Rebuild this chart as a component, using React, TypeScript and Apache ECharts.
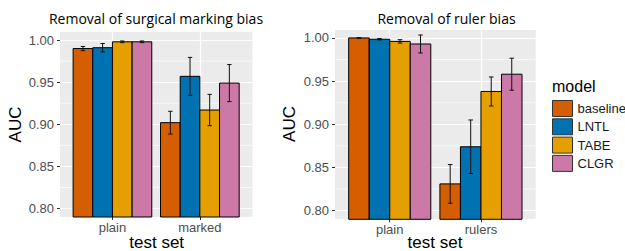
import React, { useEffect, useRef } from 'react';
import * as echarts from 'echarts';

const models = ['baseline', 'LNTL', 'TABE', 'CLGR'];
const modelColors = ['#D55E00', '#0072B2', '#E69F00', '#CC79A7'];

const surgicalCats = ['plain', 'marked'];
const surgicalMean = [
  [0.990, 0.902],
  [0.991, 0.957],
  [0.998, 0.917],
  [0.998, 0.949],
];
const surgicalErr = [
  [0.0025, 0.0135],
  [0.005, 0.0225],
  [0.001, 0.0186],
  [0.001, 0.022],
];

const rulerCats = ['plain', 'rulers'];
const rulerMean = [
  [1.0, 0.831],
  [0.9985, 0.874],
  [0.996, 0.938],
  [0.993, 0.958],
];
const rulerErr = [
  [0.0004, 0.0224],
  [0.0008, 0.031],
  [0.002, 0.0168],
  [0.0104, 0.0185],
];

const minorBreaks = [0.825, 0.875, 0.925, 0.975];
const yLimits = [0.79, 1.01];
const xLimits = [0.4, 2.6];

const TICK_FONT = '"Liberation Sans", Arial, sans-serif';
const TITLE_FONT = '"Open Sans", "Liberation Sans", sans-serif';

function catPoints(cats: string[]) {
  // points every 0.2 units across the panel; categories sit at 1, 2
  const pts: string[] = [];
  for (let i = 0; i <= 11; i++) {
    const pos = xLimits[0] + i * 0.2;
    let label = '';
    cats.forEach((c, k) => {
      if (Math.abs(pos - (k + 1)) < 1e-6) label = c;
    });
    pts.push(label);
  }
  return pts;
}

const isCatIdx = (i: number) => i === 3 || i === 8;

function barSeries(panel: number, means: number[][], errs: number[][]) {
  return models.map((m, k) => ({
    type: 'custom',
    name: m,
    xAxisIndex: panel * 2,
    yAxisIndex: panel,
    z: 3,
    itemStyle: { color: modelColors[k], borderColor: '#000', borderWidth: 1 },
    encode: { x: 0, y: 1 },
    data: means[k].map((v, c) => [c + 1 + (k - 1.5) * 0.225, v, errs[k][c]]),
    renderItem: (params: any, api: any) => {
      const x = api.value(0);
      const v = api.value(1);
      const e = api.value(2);
      const hw = 0.1125;
      const cw = 0.025;
      const tl = api.coord([x - hw, v]);
      const br = api.coord([x + hw, yLimits[0]]);
      const top = api.coord([x, v + e]);
      const bot = api.coord([x, v - e]);
      const cl = api.coord([x - cw, v]);
      const cr = api.coord([x + cw, v]);
      const lineStyle = { stroke: '#111', lineWidth: 1 };
      return {
        type: 'group',
        children: [
          {
            type: 'rect',
            shape: { x: tl[0], y: tl[1], width: br[0] - tl[0], height: br[1] - tl[1] },
            style: { fill: modelColors[k], stroke: '#000', lineWidth: 1 },
          },
          { type: 'line', shape: { x1: top[0], y1: top[1], x2: bot[0], y2: bot[1] }, style: lineStyle },
          { type: 'line', shape: { x1: cl[0], y1: top[1], x2: cr[0], y2: top[1] }, style: lineStyle },
          { type: 'line', shape: { x1: cl[0], y1: bot[1], x2: cr[0], y2: bot[1] }, style: lineStyle },
        ],
      };
    },
  }));
}

function minorSeries(panel: number) {
  return {
    type: 'custom',
    name: 'minor' + panel,
    xAxisIndex: panel * 2,
    yAxisIndex: panel,
    z: 1,
    silent: true,
    encode: { x: -1, y: 0 },
    data: minorBreaks.map((b) => [b]),
    renderItem: (params: any, api: any) => {
      const v = api.value(0);
      const a = api.coord([xLimits[0], v]);
      const b = api.coord([xLimits[1], v]);
      return {
        type: 'line',
        shape: { x1: a[0], y1: a[1], x2: b[0], y2: b[1] },
        style: { stroke: '#FFFFFF', lineWidth: 0.6 },
      };
    },
  };
}

function valueX(gridIndex: number) {
  return { type: 'value', gridIndex, position: 'bottom', min: xLimits[0], max: xLimits[1], show: false };
}

function catX(gridIndex: number, cats: string[]) {
  return {
    type: 'category',
    gridIndex,
    position: 'bottom',
    boundaryGap: false,
    data: catPoints(cats),
    axisLine: { show: false },
    axisTick: { show: true, interval: (i: number) => isCatIdx(i), length: 3, lineStyle: { color: '#333', width: 1 } },
    axisLabel: {
      show: true,
      interval: (i: number) => isCatIdx(i),
      color: '#4D4D4D',
      fontSize: 13,
      fontFamily: TICK_FONT,
      margin: 4,
    },
    splitLine: { show: true, interval: (i: number) => isCatIdx(i), lineStyle: { color: '#FFFFFF', width: 1.2 } },
  };
}

function yAx(gridIndex: number) {
  return {
    type: 'value',
    gridIndex,
    min: yLimits[0],
    max: yLimits[1],
    axisLine: { show: false },
    axisTick: { show: true, length: 3, lineStyle: { color: '#333', width: 1 } },
    axisLabel: {
      showMinLabel: false,
      showMaxLabel: false,
      formatter: (v: number) => v.toFixed(2),
      color: '#4D4D4D',
      fontSize: 13,
      fontFamily: TICK_FONT,
      margin: 6,
    },
    splitLine: { show: true, lineStyle: { color: '#FFFFFF', width: 1.2 } },
  };
}

function txt(text: string, x: number, y: number, size: number, opts: any = {}) {
  return {
    type: 'text',
    x,
    y,
    rotation: opts.rotation || 0,
    style: {
      text,
      fill: opts.fill || '#000',
      font: `${size}px ${opts.font || TICK_FONT}`,
      textAlign: opts.align || 'center',
      textVerticalAlign: 'middle',
    },
  };
}

export default function App() {
  const ref = useRef<HTMLDivElement>(null);
  useEffect(() => {
    if (!ref.current) return;
    const chart = echarts.init(ref.current, undefined, { renderer: 'svg' });
    chart.setOption({
      animation: false,
      backgroundColor: '#FFFFFF',
      grid: [
        { left: 60, top: 31.7, width: 192.3, height: 185.3, show: true, backgroundColor: '#EBEBEB', borderWidth: 0 },
        { left: 335, top: 29.3, width: 200.7, height: 190, show: true, backgroundColor: '#EBEBEB', borderWidth: 0 },
      ],
      xAxis: [valueX(0), catX(0, surgicalCats), valueX(1), catX(1, rulerCats)],
      yAxis: [yAx(0), yAx(1)],
      legend: {
        orient: 'vertical',
        left: 552,
        top: 100,
        padding: 0,
        itemWidth: 20,
        itemHeight: 16,
        itemGap: 1.3,
        icon: 'rect',
        data: models,
        selectedMode: false,
        textStyle: { color: '#1A1A1A', fontSize: 13, fontFamily: TICK_FONT, padding: [0, 0, 0, 0] },
        itemStyle: { borderColor: '#333', borderWidth: 1 },
      },
      graphic: [
        txt('Removal of surgical marking bias', 156, 18, 14, { font: TITLE_FONT }),
        txt('Removal of ruler bias', 446.5, 18, 14, { font: TITLE_FONT }),
        txt('AUC', 15, 124.5, 17, { rotation: Math.PI / 2 }),
        txt('AUC', 289, 124, 17, { rotation: Math.PI / 2 }),
        txt('test set', 156.7, 242.5, 17),
        txt('test set', 435, 242.5, 17),
        txt('model', 552, 86, 16, { align: 'left' }),
      ],
      series: [
        minorSeries(0),
        minorSeries(1),
        ...barSeries(0, surgicalMean, surgicalErr),
        ...barSeries(1, rulerMean, rulerErr),
      ],
    });
    return () => chart.dispose();
  }, []);
  return <div ref={ref} style={{ position: 'absolute', left: 0, top: 0, width: 625, height: 251 }} />;
}
